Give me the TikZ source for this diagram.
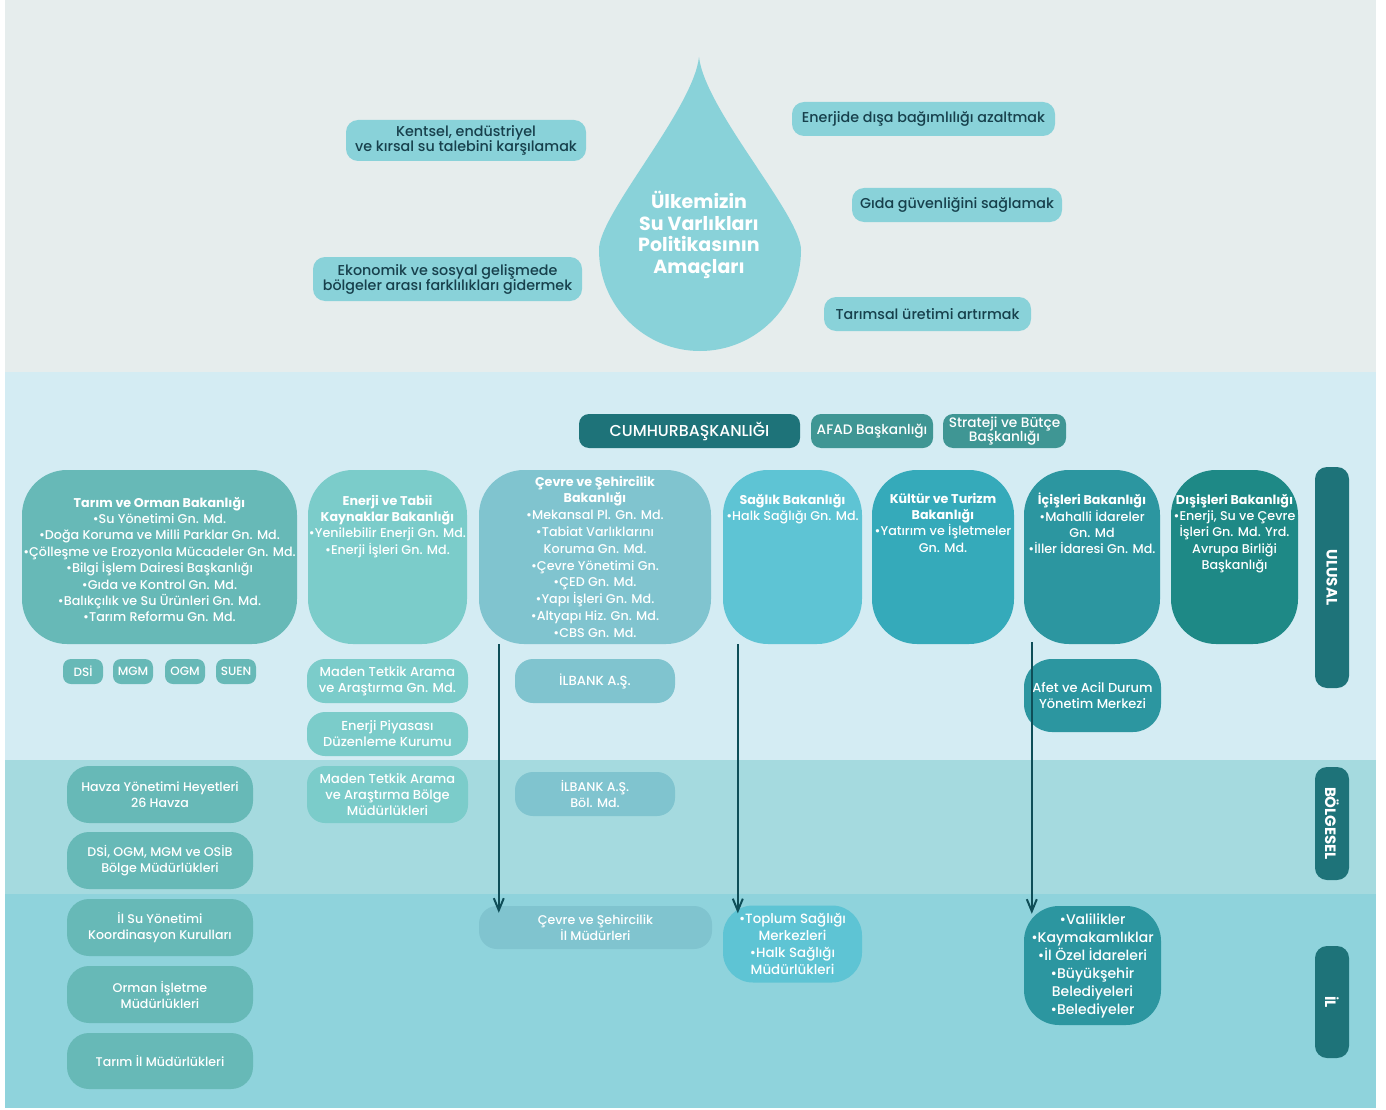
\documentclass[tikz,border=0pt]{standalone}
\usepackage{fontspec}
\setmainfont{Poppins}[UprightFont=* Medium, BoldFont=* Bold]
\usetikzlibrary{arrows.meta}
\definecolor{topbg}{HTML}{E6EDED}
\definecolor{natbg}{HTML}{D4ECF3}
\definecolor{regbg}{HTML}{A5DADF}
\definecolor{provbg}{HTML}{8FD3DC}
\definecolor{dropc}{HTML}{89D2D9}
\definecolor{goaltxt}{HTML}{17404C}
\definecolor{darkteal}{HTML}{1E7379}
\definecolor{midteal}{HTML}{3F9694}
\definecolor{tarimc}{HTML}{67B9B7}
\definecolor{enerjic}{HTML}{7BCCCA}
\definecolor{cevrec}{HTML}{80C4CF}
\definecolor{saglikc}{HTML}{5EC4D4}
\definecolor{kulturc}{HTML}{35AABA}
\definecolor{icislerc}{HTML}{2C96A0}
\definecolor{disislerc}{HTML}{1E8986}
\definecolor{arrowc}{HTML}{0E4E58}

\begin{document}
\begin{tikzpicture}
  [x=1pt,y=-1pt,
   every node/.style={align=center, inner sep=0pt, text=white,
     font=\fontsize{12.7}{16.4}\selectfont},
   goal/.style={fill=dropc, rounded corners=12pt, text=goaltxt, minimum height=34pt,
     font=\fontsize{14.3}{15}\selectfont},
   head/.style={fill=midteal, rounded corners=10pt, minimum height=34pt,
     font=\fontsize{13.7}{14.5}\selectfont},
   bakanlik/.style={fill=#1, rounded corners=45pt, minimum height=174pt},
   mtext/.style={anchor=north, yshift=-#1},
   birim/.style={fill=#1, rounded corners=18pt, font=\fontsize{12.6}{16}\selectfont},
   kisa/.style={fill=tarimc, rounded corners=8pt, minimum width=40pt, minimum height=25pt,
     font=\fontsize{12}{14}\selectfont},
   tier/.style={fill=darkteal, rounded corners=12pt, minimum height=34pt, rotate=-90,
     font=\bfseries\fontsize{15}{15}\selectfont},
   pijl/.style={draw=arrowc, line width=2pt, -{Straight Barb[length=12pt,width=10pt]}}]

  \fill[white] (0,0) rectangle (1386,1110);
  \fill[topbg] (5,0) rectangle (1376,372);
  \fill[natbg] (5,372) rectangle (1376,760);
  \fill[regbg] (5,760) rectangle (1376,894);
  \fill[provbg] (5,894) rectangle (1376,1108);

  \fill[dropc] (699,57) .. controls (705,110) and (801,215) .. (801,250)
    arc[start angle=0, end angle=180, radius=101]
    .. controls (598,215) and (693,110) .. (699,57);
  \node[font=\bfseries\fontsize{19}{21.5}\selectfont] (drop) at (699,235)
    {Ülkemizin\\Su Varlıkları\\Politikasının\\Amaçları};

  \node[goal, minimum width=240pt, minimum height=41pt] (g1) at (466,140.5) {Kentsel, endüstriyel\\ve kırsal su talebini karşılamak};
  \node[goal, minimum width=269pt, minimum height=44pt] (g2) at (447.5,279) {Ekonomik ve sosyal gelişmede\\bölgeler arası farklılıkları gidermek};
  \node[goal, minimum width=263pt] (g3) at (923.5,119) {Enerjide dışa bağımlılığı azaltmak};
  \node[goal, minimum width=210pt] (g4) at (957,205) {Gıda güvenliğini sağlamak};
  \node[goal, minimum width=207pt] (g5) at (927.5,314) {Tarımsal üretimi artırmak};

  \node[head, fill=darkteal, minimum width=221pt, font=\fontsize{15.8}{15}\selectfont] (cumhur) at (689.5,431) {CUMHURBAŞKANLIĞI};
  \node[head, minimum width=122pt] (afad) at (872,431) {AFAD Başkanlığı};
  \node[head, minimum width=123pt] (sbb) at (1004.5,431) {Strateji ve Bütçe\\Başkanlığı};

  \node[bakanlik=tarimc, minimum width=275pt,
    label={[mtext=27pt]north:{\textbf{Tarım ve Orman Bakanlığı}\\•Su Yönetimi Gn. Md.\\•Doğa Koruma ve Milli Parklar Gn. Md.\\•Çölleşme ve Erozyonla Mücadeler Gn. Md.\\•Bilgi İşlem Dairesi Başkanlığı\\•Gıda ve Kontrol Gn. Md.\\•Balıkçılık ve Su Ürünleri Gn. Md.\\•Tarım Reformu Gn. Md.}}]
    (tarim) at (159.5,557) {};
  \node[bakanlik=enerjic, minimum width=159pt,
    label={[mtext=25pt]north:{\textbf{Enerji ve Tabii}\\\textbf{Kaynaklar Bakanlığı}\\•Yenilebilir Enerji Gn. Md.\\•Enerji İşleri Gn. Md.}}]
    (enerji) at (387.5,557) {};
  \node[bakanlik=cevrec, minimum width=232pt,
    label={[mtext=6pt, font=\fontsize{12.7}{16.8}\selectfont]north:{\textbf{Çevre ve Şehircilik}\\\textbf{Bakanlığı}\\•Mekansal Pl. Gn. Md.\\•Tabiat Varlıklarını\\Koruma Gn. Md.\\•Çevre Yönetimi Gn.\\•ÇED Gn. Md.\\•Yapı İşleri Gn. Md.\\•Altyapı Hiz. Gn. Md.\\•CBS Gn. Md.}}]
    (cevre) at (595,557) {};
  \node[bakanlik=saglikc, minimum width=139pt,
    label={[mtext=24pt]north:{\textbf{Sağlık Bakanlığı}\\•Halk Sağlığı Gn. Md.}}]
    (saglik) at (792.5,557) {};
  \node[bakanlik=kulturc, minimum width=142pt,
    label={[mtext=23pt]north:{\textbf{Kültür ve Turizm}\\\textbf{Bakanlığı}\\•Yatırım ve İşletmeler\\Gn. Md.}}]
    (kultur) at (943,557) {};
  \node[bakanlik=icislerc, minimum width=136pt,
    label={[mtext=23pt]north:{\textbf{İçişleri Bakanlığı}\\•Mahalli İdareler\\Gn. Md\\•İller İdaresi Gn. Md.}}]
    (icisleri) at (1092,557) {};
  \node[bakanlik=disislerc, minimum width=127pt,
    label={[mtext=24pt]north:{\textbf{Dışişleri Bakanlığı}\\•Enerji, Su ve Çevre\\İşleri Gn. Md. Yrd.\\Avrupa Birliği\\Başkanlığı}}]
    (disisleri) at (1234.5,557) {};

  \node[tier, minimum width=221pt] (ulusal) at (1332,577.5) {ULUSAL};
  \node[tier, minimum width=113pt] (bolgesel) at (1332,823.5) {BÖLGESEL};
  \node[tier, minimum width=112pt] (il) at (1332,1002) {İL};

  \node[kisa] (dsi) at (83,671.5) {DSİ};
  \node[kisa] (mgm) at (133,671.5) {MGM};
  \node[kisa] (ogm) at (185,671.5) {OGM};
  \node[kisa] (suen) at (236,671.5) {SUEN};

  \node[birim=tarimc, rounded corners=22pt, minimum width=186pt, minimum height=57pt] (havza) at (160,794.5) {Havza Yönetimi Heyetleri\\26 Havza};
  \node[birim=tarimc, rounded corners=22pt, minimum width=186pt, minimum height=57pt] (dsibolge) at (160,860.5) {DSİ, OGM, MGM ve OSİB\\Bölge Müdürlükleri};
  \node[birim=tarimc, rounded corners=22pt, minimum width=186pt, minimum height=57pt] (ilsu) at (160,927.5) {İl Su Yönetimi\\Koordinasyon Kurulları};
  \node[birim=tarimc, rounded corners=22pt, minimum width=186pt, minimum height=57pt] (orman) at (160,994.5) {Orman İşletme\\Müdürlükleri};
  \node[birim=tarimc, rounded corners=22pt, minimum width=186pt, minimum height=56pt] (tarimil) at (160,1061) {Tarım İl Müdürlükleri};

  \node[birim=enerjic, minimum width=161pt, minimum height=44pt, font=\fontsize{13}{16}\selectfont] (mta) at (387.5,681) {Maden Tetkik Arama\\ve Araştırma Gn. Md.};
  \node[birim=enerjic, minimum width=161pt, minimum height=44pt, font=\fontsize{13}{16}\selectfont] (epdk) at (387.5,734) {Enerji Piyasası\\Düzenleme Kurumu};
  \node[birim=enerjic, minimum width=161pt, minimum height=57pt, font=\fontsize{13}{16}\selectfont] (mtabolge) at (387.5,794.5) {Maden Tetkik Arama\\ve Araştırma Bölge\\Müdürlükleri};

  \node[birim=cevrec, minimum width=160pt, minimum height=44pt, font=\fontsize{13.2}{16}\selectfont] (ilbank) at (595,681) {İLBANK A.Ş.};
  \node[birim=cevrec, minimum width=160pt, minimum height=44pt] (ilbankbol) at (595,794) {İLBANK A.Ş.\\Böl. Md.};
  \node[birim=cevrec, minimum width=233pt, minimum height=43pt] (cevreil) at (595.5,927.5) {Çevre ve Şehircilik\\İl Müdürleri};

  \node[birim=saglikc, rounded corners=30pt, minimum width=139pt, minimum height=77pt, font=\fontsize{13.4}{17}\selectfont] (saglikil) at (792.5,944) {•Toplum Sağlığı\\Merkezleri\\•Halk Sağlığı\\Müdürlükleri};

  \node[birim=icislerc, rounded corners=28pt, minimum width=137pt, minimum height=73pt, font=\fontsize{13}{15.5}\selectfont] (afet) at (1092.5,695.5) {Afet ve Acil Durum\\Yönetim Merkezi};
  \node[birim=icislerc, rounded corners=35pt, minimum width=137pt, minimum height=119pt, font=\fontsize{14}{18}\selectfont] (valilik) at (1092.5,965.5) {•Valilikler\\•Kaymakamlıklar\\•İl Özel İdareleri\\•Büyükşehir\\Belediyeleri\\•Belediyeler};

  \path
    ([xshift=20pt]cevre.south west) edge[pijl] ([xshift=20pt,yshift=-7pt]cevreil.north west)
    ([xshift=15pt]saglik.south west) edge[pijl] ([xshift=15pt,yshift=-8pt]saglikil.north west)
    ([xshift=8pt,yshift=2pt]icisleri.south west) edge[pijl] ([xshift=8pt,yshift=-8pt]valilik.north west);
\end{tikzpicture}
\end{document}
